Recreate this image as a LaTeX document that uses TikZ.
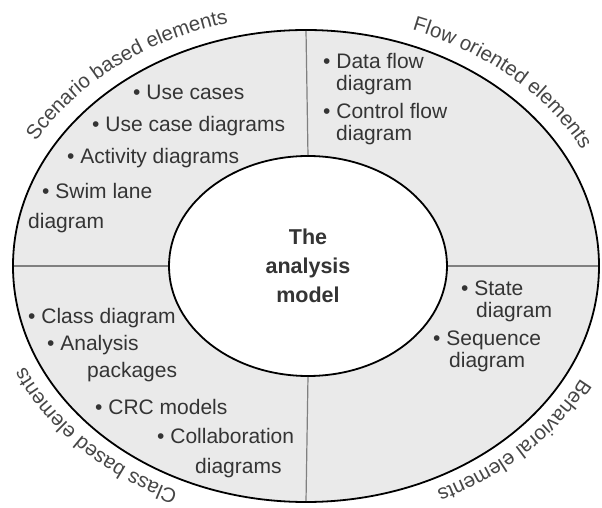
\documentclass[tikz,border=0pt]{standalone}
\usepackage{fontspec}
\setmainfont{Liberation Sans}
\usetikzlibrary{shapes.geometric,decorations.text}

\definecolor{ringgray}{RGB}{234,234,234}
\definecolor{inkgray}{RGB}{52,52,52}
\definecolor{rimgray}{RGB}{70,70,70}
\newcommand{\itemfont}{\fontsize{21}{24}\selectfont}
\newcommand{\rimfont}{\fontsize{20.5}{20.5}\selectfont}

\tikzset{
    item/.style={anchor=base west, inner sep=0pt, font=\itemfont, text=inkgray},
    rim/.style={decorate, decoration={text along path, text align=center,
        text={|\rimfont\color{rimgray}|#1}}},
    divider/.style={color=gray, line width=1.2pt, shorten <=1pt, shorten >=1pt}
}

\begin{document}
\begin{tikzpicture}[x=1pt, y=1pt]
            \useasboundingbox (-306, -242) rectangle (296, 266);
            \node[ellipse, draw, line width=1.8pt, fill=ringgray, outer sep=0pt, inner sep=0pt,
                minimum width=586pt, minimum height=472pt] (ring) at (0, 0) {};
            \node[ellipse, draw, line width=1.8pt, fill=white, outer sep=0pt, inner sep=0pt,
                minimum width=278pt, minimum height=220pt, align=center, text=inkgray,
                font=\fontsize{21.5}{29}\selectfont\bfseries] (model) at (2, 0) {The\\analysis\\model};
            \draw[divider] (ring.north) -- (model.north);
            \draw[divider] (ring.south) -- (model.south);
            \draw[divider] (ring.west) -- (model.west);
            \draw[divider] (ring.east) -- (model.east);

            \path[rim={Scenario based elements}] (ring.center) ++(170:311 and 251)
                arc[start angle=170, end angle=88, x radius=311, y radius=251];
            \path[rim={Flow oriented elements}] (ring.center) ++(88:311 and 251)
                arc[start angle=88, end angle=6, x radius=311, y radius=251];
            \path[rim={Behavioral elements}] (ring.center) ++(-4:308 and 248)
                arc[start angle=-4, end angle=-84, x radius=308, y radius=248];
            \path[rim={Class based elements}] (ring.center) ++(263:308 and 248)
                arc[start angle=263, end angle=183, x radius=308, y radius=248];

            \node[item] (usecase) at (-173, 166) {\textbullet\ Use cases};
            \node[item] (usediag) at (-214, 134) {\textbullet\ Use case diagrams};
            \node[item] (activity) at (-239, 102) {\textbullet\ Activity diagrams};
            \node[item] (swim) at (-264, 67) {\textbullet\ Swim lane};
            \node[item] (swimb) at (-278, 37) {diagram};

            \node[item] (dataflow) at (17, 197) {\textbullet\ Data flow};
            \node[item] (dataflowb) at (30, 175) {diagram};
            \node[item] (ctrlflow) at (17, 147) {\textbullet\ Control flow};
            \node[item] (ctrlflowb) at (30, 125) {diagram};

            \node[item] (classd) at (-278, -58) {\textbullet\ Class diagram};
            \node[item] (analysis) at (-259, -85) {\textbullet\ Analysis};
            \node[item] (analysisb) at (-219, -112) {packages};
            \node[item] (crc) at (-211, -148) {\textbullet\ CRC models};
            \node[item] (collab) at (-149, -177) {\textbullet\ Collaboration};
            \node[item] (collabb) at (-111, -207) {diagrams};

            \node[item] (state) at (155, -30) {\textbullet\ State};
            \node[item] (stateb) at (170, -52) {diagram};
            \node[item] (sequence) at (127, -80) {\textbullet\ Sequence};
            \node[item] (sequenceb) at (143, -102) {diagram};
\end{tikzpicture}
\end{document}
